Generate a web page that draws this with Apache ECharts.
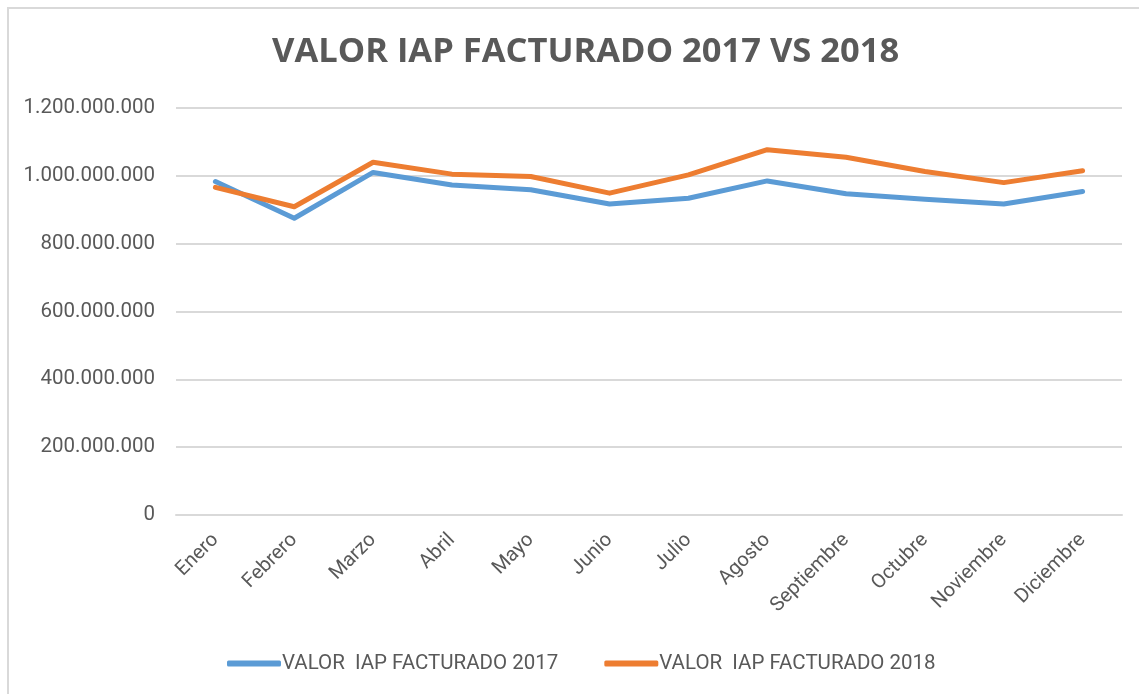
<!DOCTYPE html>
<html>
<head>
<meta charset="utf-8">
<script src="https://cdn.jsdelivr.net/npm/echarts@6/dist/echarts.min.js"></script>
<style>
html,body{margin:0;padding:0;background:#fff;}
#c{width:1139px;height:694px;}
</style>
</head>
<body>
<div id="c"></div>
<script>
const months = ['Enero','Febrero','Marzo','Abril','Mayo','Junio','Julio','Agosto','Septiembre','Octubre','Noviembre','Diciembre'];
const values2017 = [983000000, 875000000, 1010000000, 973000000, 959000000, 917000000, 934000000, 985000000, 947000000, 931000000, 917000000, 954000000];
const values2018 = [966000000, 909000000, 1040000000, 1005000000, 998000000, 949000000, 1003000000, 1077000000, 1055000000, 1013000000, 980000000, 1015000000];
const seriesNames = ['VALOR  IAP FACTURADO 2017', 'VALOR  IAP FACTURADO 2018'];
const titleText = 'VALOR IAP FACTURADO 2017 VS 2018';

function fmt(v){
  return String(Math.round(v)).replace(/\B(?=(\d{3})+(?!\d))/g, '.');
}

const chart = echarts.init(document.getElementById('c'), null, {renderer:'canvas'});
chart.setOption({
  animation: false,
  backgroundColor: '#fff',
  graphic: [{
    type: 'polyline',
    shape: { points: [[8, 694], [8, 8], [1139, 8]] },
    style: { stroke: '#D9D9D9', lineWidth: 2, fill: null },
    silent: true
  }],
  title: {
    text: titleText,
    left: 267,
    top: 30,
    textStyle: { fontFamily: 'Open Sans', fontWeight: 'bold', fontSize: 34.5, color: '#595959' }
  },
  legend: {
    bottom: 15,
    left: 222,
    itemWidth: 54,
    itemHeight: 6,
    itemGap: 46,
    icon: 'roundRect',
    textStyle: { fontFamily: 'Roboto', fontSize: 20.5, color: '#595959', padding: [0,0,0,-4] },
    data: seriesNames
  },
  grid: { left: 176, right: 17, top: 108, height: 407, containLabel: false },
  xAxis: {
    type: 'category',
    data: months,
    boundaryGap: true,
    axisLine: { show: true, lineStyle: { color: '#D9D9D9', width: 2 } },
    axisTick: { show: false },
    axisLabel: { rotate: 45, margin: 22, fontFamily: 'Roboto', fontSize: 20, color: '#595959' }
  },
  yAxis: {
    type: 'value',
    min: 0,
    max: 1200000000,
    interval: 200000000,
    axisLine: { show: false },
    axisTick: { show: false },
    splitLine: { lineStyle: { color: '#D9D9D9', width: 2 } },
    axisLabel: { formatter: fmt, margin: 21, fontFamily: 'Roboto', fontSize: 20.5, color: '#595959' }
  },
  series: [
    { name: seriesNames[0], type: 'line', data: values2017, symbol: 'none',
      lineStyle: { color: '#5B9BD5', width: 5, cap: 'round', join: 'round' }, itemStyle: { color: '#5B9BD5' } },
    { name: seriesNames[1], type: 'line', data: values2018, symbol: 'none',
      lineStyle: { color: '#ED7D31', width: 5, cap: 'round', join: 'round' }, itemStyle: { color: '#ED7D31' } }
  ]
});
</script>
</body>
</html>
